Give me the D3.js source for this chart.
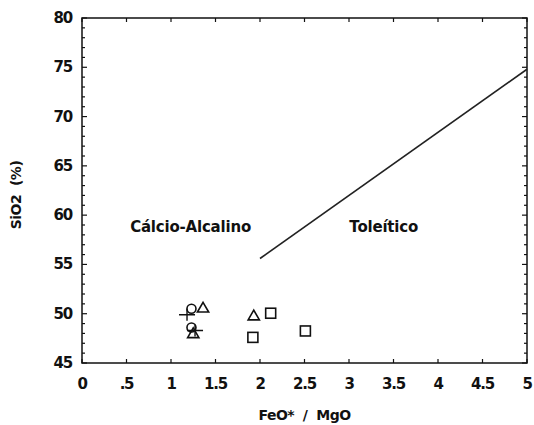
<!DOCTYPE html>
<html>
<head>
<meta charset="utf-8">
<script src="https://cdn.jsdelivr.net/npm/d3@7"></script>
<style>
  body { margin: 0; background: #fff; }
  svg text { font-family: "DejaVu Sans", sans-serif; font-weight: bold; fill: #111; }
</style>
</head>
<body>
<div id="chart"></div>
<script>
// valores
const xTicks = [0, 0.5, 1, 1.5, 2, 2.5, 3, 3.5, 4, 4.5, 5];
const xTickLabels = ['0', '.5', '1', '1.5', '2', '2.5', '3', '3.5', '4', '4.5', '5'];
const yTicks = [45, 50, 55, 60, 65, 70, 75, 80];

const circles = [[1.23, 50.5], [1.23, 48.6]];
const triangles = [[1.36, 50.5], [1.25, 47.9], [1.93, 49.7]];
const crosses = [[1.18, 49.9], [1.27, 48.3]];
const squares = [[2.12, 50.05], [1.92, 47.6], [2.51, 48.25]];

// limite Miyashiro (1974)
const divider = [[2.0, 55.6], [5.0, 74.8]];

const regionLabels = [
  { text: 'Cálcio-Alcalino', x: 1.22, y: 58.3 },
  { text: 'Toleítico', x: 3.39, y: 58.3 }
];

const W = 534, H = 425;
const margin = { top: 18, right: 7, bottom: 62, left: 82 };
const width = W - margin.left - margin.right;
const height = H - margin.top - margin.bottom;

const svg = d3.select('#chart').append('svg')
  .attr('width', W).attr('height', H);
const g = svg.append('g').attr('transform', `translate(${margin.left},${margin.top})`);

const x = d3.scaleLinear().domain([0, 5]).range([0, width]);
const y = d3.scaleLinear().domain([45, 80]).range([height, 0]);

g.append('rect').attr('width', width).attr('height', height)
  .attr('fill', 'none').attr('stroke', '#111').attr('stroke-width', 1.5);

// ticks para dentro
const yMinor = d3.range(45, 81, 1);
g.selectAll('.yl').data(yMinor).join('line')
  .attr('x1', 0).attr('x2', d => d % 5 === 0 ? 5 : 3)
  .attr('y1', d => y(d)).attr('y2', d => y(d))
  .attr('stroke', '#111').attr('stroke-width', 1.2);
g.selectAll('.yr').data(yMinor).join('line')
  .attr('x1', width).attr('x2', d => width - (d % 5 === 0 ? 5 : 3))
  .attr('y1', d => y(d)).attr('y2', d => y(d))
  .attr('stroke', '#111').attr('stroke-width', 1.2);
g.selectAll('.xb').data(xTicks).join('line')
  .attr('x1', d => x(d)).attr('x2', d => x(d))
  .attr('y1', height).attr('y2', height - 4)
  .attr('stroke', '#111').attr('stroke-width', 1.2);
g.selectAll('.xt').data(xTicks).join('line')
  .attr('x1', d => x(d)).attr('x2', d => x(d))
  .attr('y1', 0).attr('y2', 4)
  .attr('stroke', '#111').attr('stroke-width', 1.2);

g.selectAll('.ylab').data(yTicks).join('text')
  .attr('x', -10).attr('y', d => y(d) + 5)
  .attr('text-anchor', 'end').attr('font-size', 15)
  .attr('letter-spacing', -1.2)
  .text(d => d);

g.selectAll('.xlab').data(xTicks).join('text')
  .attr('x', d => x(d)).attr('y', height + 26)
  .attr('text-anchor', 'middle').attr('font-size', 15)
  .attr('letter-spacing', -1.2)
  .text((d, i) => xTickLabels[i]);

svg.append('text')
  .attr('x', margin.left + width / 2).attr('y', 420)
  .attr('text-anchor', 'middle').attr('font-size', 14)
  .attr('letter-spacing', -0.5)
  .attr('xml:space', 'preserve')
  .text('FeO*  /  MgO');

svg.append('text')
  .attr('transform', 'translate(21,195) rotate(-90)')
  .attr('text-anchor', 'middle').attr('font-size', 14)
  .attr('letter-spacing', -0.5)
  .attr('xml:space', 'preserve')
  .text('SiO2  (%)');

g.selectAll('.region').data(regionLabels).join('text')
  .attr('x', d => x(d.x)).attr('y', d => y(d.y))
  .attr('text-anchor', 'middle').attr('font-size', 15)
  .attr('letter-spacing', -0.2)
  .text(d => d.text);

g.append('path')
  .attr('d', d3.line().x(d => x(d[0])).y(d => y(d[1]))(divider))
  .attr('fill', 'none').attr('stroke', '#222').attr('stroke-width', 1.6);

const mk = { fill: 'none', stroke: '#111', sw: 1.6 };

g.selectAll('.c').data(circles).join('circle')
  .attr('cx', d => x(d[0])).attr('cy', d => y(d[1])).attr('r', 4.5)
  .attr('fill', mk.fill).attr('stroke', mk.stroke).attr('stroke-width', mk.sw);

const tri = d3.symbol().type(d3.symbolTriangle).size(55);
g.selectAll('.t').data(triangles).join('path')
  .attr('d', tri)
  .attr('transform', d => `translate(${x(d[0])},${y(d[1])})`)
  .attr('fill', mk.fill).attr('stroke', mk.stroke).attr('stroke-width', mk.sw);

g.selectAll('.s').data(squares).join('rect')
  .attr('x', d => x(d[0]) - 5).attr('y', d => y(d[1]) - 5)
  .attr('width', 10).attr('height', 10)
  .attr('fill', mk.fill).attr('stroke', mk.stroke).attr('stroke-width', mk.sw);

g.selectAll('.p').data(crosses).join('path')
  .attr('d', 'M-8,0H8M0,-6V6')
  .attr('transform', d => `translate(${x(d[0])},${y(d[1])})`)
  .attr('fill', 'none').attr('stroke', mk.stroke).attr('stroke-width', 1.4);
</script>
</body>
</html>
